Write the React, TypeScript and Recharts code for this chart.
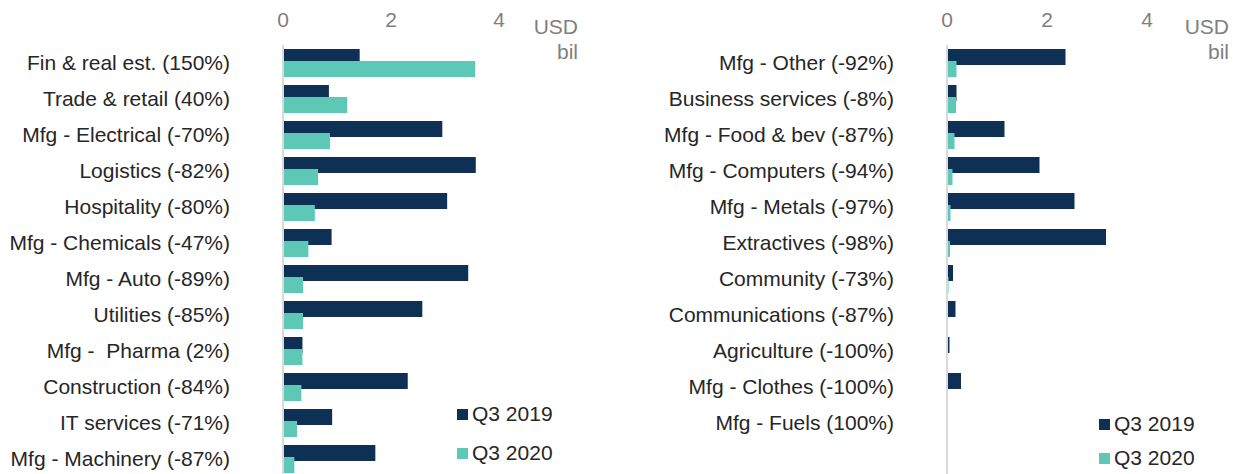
import { BarChart, Bar, XAxis, YAxis, Legend } from "recharts";

const NAVY = "#0e3054";
const TEAL = "#5dc8b6";
const TEXT = "#262626";
const GREY = "#7f7f7f";
const FONT = "'Liberation Sans', Arial, sans-serif";

const seriesNames = ["Q3 2019", "Q3 2020"];
const xTicks = [0, 2, 4];

const leftCategories = [
  "Fin & real est. (150%)",
  "Trade & retail (40%)",
  "Mfg - Electrical (-70%)",
  "Logistics (-82%)",
  "Hospitality (-80%)",
  "Mfg - Chemicals (-47%)",
  "Mfg - Auto (-89%)",
  "Utilities (-85%)",
  "Mfg - \u00a0Pharma (2%)",
  "Construction (-84%)",
  "IT services (-71%)",
  "Mfg - Machinery (-87%)",
];
const left2019 = [1.42, 0.85, 2.95, 3.57, 3.04, 0.9, 3.43, 2.58, 0.36, 2.31, 0.91, 1.71];
const left2020 = [3.56, 1.19, 0.87, 0.65, 0.59, 0.47, 0.37, 0.37, 0.36, 0.34, 0.26, 0.21];

const rightCategories = [
  "Mfg - Other (-92%)",
  "Business services (-8%)",
  "Mfg - Food & bev (-87%)",
  "Mfg - Computers (-94%)",
  "Mfg - Metals (-97%)",
  "Extractives (-98%)",
  "Community (-73%)",
  "Communications (-87%)",
  "Agriculture (-100%)",
  "Mfg - Clothes (-100%)",
  "Mfg - Fuels (100%)",
];
const right2019 = [2.37, 0.19, 1.15, 1.85, 2.55, 3.18, 0.12, 0.17, 0.05, 0.28, 0];
const right2020 = [0.19, 0.18, 0.15, 0.11, 0.07, 0.06, 0.03, 0.02, 0, 0, 0];

function toRows(cats: string[], a: number[], b: number[]) {
  return cats.map((name, i) => ({ name, y2019: a[i], y2020: b[i] }));
}

const leftData = toRows(leftCategories, left2019, left2020);
const rightData = toRows(rightCategories, right2019, right2020);

function LegendBox({ payload, gap }: { payload?: any[]; gap: number }) {
  return (
    <div>
      {(payload || []).map((p, i) => (
        <div
          key={i}
          style={{
            display: "flex",
            alignItems: "center",
            height: 24,
            marginTop: i === 0 ? 0 : gap,
            fontSize: 21,
            color: TEXT,
            fontFamily: FONT,
          }}
        >
          <span
            style={{ display: "inline-block", width: 11, height: 11, background: p.color, marginRight: 4 }}
          />
          {p.value}
        </div>
      ))}
    </div>
  );
}

type PanelProps = {
  data: { name: string; y2019: number; y2020: number }[];
  width: number;
  axisWidth: number;
  plotWidth: number;
  padBottom: number;
  legendLeft: number;
  legendTop: number;
  legendGap: number;
};

function Panel({ data, width, axisWidth, plotWidth, padBottom, legendLeft, legendTop, legendGap }: PanelProps) {
  return (
    <BarChart
      width={width}
      height={480}
      data={data}
      layout="vertical"
      margin={{ top: 0, right: width - axisWidth - plotWidth, bottom: 3, left: 0 }}
      barSize={16}
      barGap={-4}
    >
      <XAxis
        type="number"
        orientation="top"
        domain={[0, 5]}
        ticks={xTicks}
        height={45}
        axisLine={false}
        tickLine={false}
        tickSize={6}
        tickMargin={12}
        tick={{ fill: GREY, fontSize: 21, fontFamily: FONT }}
      />
      <YAxis
        type="category"
        dataKey="name"
        width={axisWidth}
        interval={0}
        padding={{ top: 0, bottom: padBottom }}
        axisLine={{ stroke: "#d9d9d9", strokeWidth: 2 }}
        tickLine={false}
        tickSize={6}
        tickMargin={47}
        tick={{ fill: TEXT, fontSize: 21, fontFamily: FONT }}
      />
      <Legend
        layout="vertical"
        align="center"
        verticalAlign="middle"
        wrapperStyle={{ left: legendLeft, top: legendTop, width: 120 }}
        content={(props: any) => <LegendBox payload={props.payload} gap={legendGap} />}
      />
      <Bar dataKey="y2019" name={seriesNames[0]} fill={NAVY} isAnimationActive={false} />
      <Bar dataKey="y2020" name={seriesNames[1]} fill={TEAL} isAnimationActive={false} />
    </BarChart>
  );
}

function UnitLabel({ right }: { right: number }) {
  return (
    <div
      style={{
        position: "absolute",
        top: 14,
        left: right - 80,
        width: 80,
        textAlign: "right",
        fontFamily: FONT,
        fontSize: 21,
        lineHeight: "25px",
        color: GREY,
      }}
    >
      USD
      <br />
      bil
    </div>
  );
}

export default function App() {
  return (
    <div
      style={{
        position: "absolute",
        left: 0,
        top: 0,
        width: 1239,
        height: 474,
        overflow: "hidden",
        background: "#fff",
        fontFamily: FONT,
      }}
    >
      <div style={{ position: "absolute", left: 0, top: 0 }}>
        <Panel
          data={leftData}
          width={600}
          axisWidth={283}
          plotWidth={270}
          padBottom={0}
          legendLeft={457}
          legendTop={402}
          legendGap={15}
        />
      </div>
      <div style={{ position: "absolute", left: 620, top: 0 }}>
        <Panel
          data={rightData}
          width={619}
          axisWidth={327}
          plotWidth={250}
          padBottom={36}
          legendLeft={479}
          legendTop={412}
          legendGap={10}
        />
      </div>
      <UnitLabel right={578} />
      <UnitLabel right={1229} />
    </div>
  );
}
